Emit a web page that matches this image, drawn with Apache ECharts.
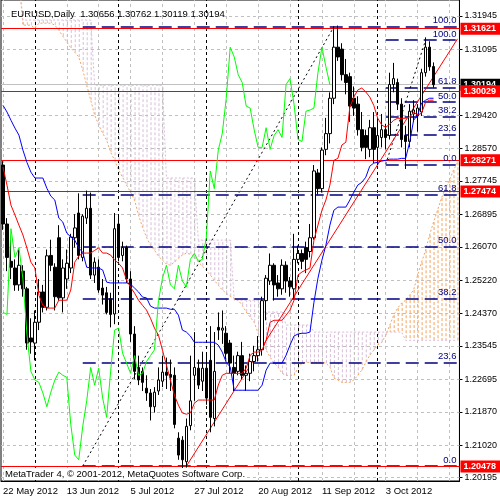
<!DOCTYPE html>
<html>
<head>
<meta charset="utf-8">
<script src="https://cdn.jsdelivr.net/npm/echarts@6/dist/echarts.min.js"></script>
<style>
  html, body { margin: 0; padding: 0; background: #fff; }
  #chart { width: 500px; height: 500px; }
</style>
</head>
<body>
<div id="chart"></div>
<script>
// EURUSD daily bars, 22 May 2012 .. 19 Oct 2012, plus 6 empty bars for the cloud
const barCount = 115
const xLabels = ['22 May 2012', '13 Jun 2012', '5 Jul 2012', '27 Jul 2012', '20 Aug 2012', '11 Sep 2012', '3 Oct 2012']
const monthStarts = ['1 Jun 2012', '2 Jul 2012', '1 Aug 2012', '3 Sep 2012', '1 Oct 2012']
const yTicks = [1.31945, 1.31095, 1.29420, 1.28570, 1.27745, 1.26895, 1.26070, 1.25220, 1.24370, 1.23545, 1.22695, 1.21870, 1.21020, 1.20195]

// open, high, low, close
const ohlc = [
  [1.2815, 1.2825, 1.2650, 1.2665], [1.2665, 1.2680, 1.2545, 1.2580], [1.2570, 1.2625, 1.2525, 1.2555],
  [1.2553, 1.2575, 1.2495, 1.2510], [1.2510, 1.2600, 1.2495, 1.2560], [1.2545, 1.2560, 1.2480, 1.2500],
  [1.2500, 1.2505, 1.2345, 1.2362], [1.2375, 1.2425, 1.2335, 1.2365], [1.2362, 1.2445, 1.2318, 1.2415],
  [1.2415, 1.2525, 1.2395, 1.2492], [1.2492, 1.2510, 1.2440, 1.2453], [1.2453, 1.2600, 1.2445, 1.2584],
  [1.2585, 1.2625, 1.2545, 1.2560], [1.2555, 1.2565, 1.2445, 1.2480], [1.2630, 1.2662, 1.2470, 1.2477],
  [1.2477, 1.2575, 1.2440, 1.2553], [1.2525, 1.2600, 1.2500, 1.2565], [1.2553, 1.2640, 1.2540, 1.2632],
  [1.2630, 1.2690, 1.2605, 1.2655], [1.2693, 1.2743, 1.2575, 1.2585], [1.2580, 1.2690, 1.2570, 1.2685],
  [1.2680, 1.2750, 1.2665, 1.2705], [1.2705, 1.2745, 1.2525, 1.2535], [1.2535, 1.2580, 1.2515, 1.2568],
  [1.2555, 1.2575, 1.2490, 1.2497], [1.2502, 1.2525, 1.2460, 1.2484], [1.2490, 1.2505, 1.2435, 1.2440],
  [1.2475, 1.2490, 1.2402, 1.2435], [1.2436, 1.2693, 1.2410, 1.2653], [1.2665, 1.2690, 1.2570, 1.2580],
  [1.2585, 1.2620, 1.2570, 1.2605], [1.2605, 1.2610, 1.2515, 1.2525], [1.2525, 1.2545, 1.2365, 1.2385],
  [1.2385, 1.2405, 1.2270, 1.2290], [1.2300, 1.2330, 1.2255, 1.2268], [1.2290, 1.2300, 1.2240, 1.2262],
  [1.2247, 1.2280, 1.2215, 1.2235], [1.2235, 1.2245, 1.2165, 1.2200], [1.2200, 1.2250, 1.2185, 1.2237],
  [1.2240, 1.2300, 1.2230, 1.2268], [1.2265, 1.2330, 1.2250, 1.2288], [1.2288, 1.2325, 1.2245, 1.2280],
  [1.2282, 1.2320, 1.2240, 1.2275], [1.2280, 1.2300, 1.2145, 1.2155], [1.2120, 1.2135, 1.2065, 1.2077],
  [1.2115, 1.2125, 1.2042, 1.2065], [1.2060, 1.2170, 1.2045, 1.2150], [1.2152, 1.2330, 1.2140, 1.2215],
  [1.2280, 1.2390, 1.2215, 1.2300], [1.2298, 1.2320, 1.2245, 1.2255], [1.2265, 1.2340, 1.2240, 1.2298],
  [1.2298, 1.2335, 1.2205, 1.2222], [1.2318, 1.2405, 1.2135, 1.2173], [1.2170, 1.2390, 1.2150, 1.2290],
  [1.2402, 1.2440, 1.2370, 1.2395], [1.2395, 1.2445, 1.2360, 1.2400], [1.2387, 1.2405, 1.2320, 1.2336],
  [1.2362, 1.2370, 1.2285, 1.2311], [1.2300, 1.2330, 1.2240, 1.2285], [1.2290, 1.2340, 1.2280, 1.2330],
  [1.2330, 1.2365, 1.2270, 1.2280], [1.2280, 1.2305, 1.2240, 1.2285], [1.2285, 1.2335, 1.2265, 1.2315],
  [1.2315, 1.2355, 1.2290, 1.2330], [1.2330, 1.2380, 1.2315, 1.2345], [1.2345, 1.2480, 1.2330, 1.2470],
  [1.2470, 1.2535, 1.2420, 1.2527], [1.2520, 1.2590, 1.2510, 1.2560], [1.2560, 1.2565, 1.2470, 1.2510],
  [1.2515, 1.2535, 1.2480, 1.2500], [1.2500, 1.2575, 1.2485, 1.2560], [1.2560, 1.2570, 1.2490, 1.2520],
  [1.2520, 1.2530, 1.2480, 1.2505], [1.2500, 1.2640, 1.2475, 1.2575], [1.2575, 1.2610, 1.2565, 1.2590],
  [1.2590, 1.2600, 1.2550, 1.2570], [1.2605, 1.2620, 1.2540, 1.2575], [1.2595, 1.2665, 1.2580, 1.2630],
  [1.2630, 1.2815, 1.2625, 1.2800], [1.2795, 1.2805, 1.2740, 1.2755], [1.2755, 1.2860, 1.2745, 1.2853],
  [1.2855, 1.2935, 1.2840, 1.2895], [1.2895, 1.3000, 1.2870, 1.2985], [1.2985, 1.3168, 1.2970, 1.3115],
  [1.3115, 1.3170, 1.3080, 1.3090], [1.3110, 1.3125, 1.3030, 1.3045], [1.3045, 1.3085, 1.2995, 1.3025],
  [1.3040, 1.3050, 1.2925, 1.2965], [1.2985, 1.3015, 1.2940, 1.2960], [1.2970, 1.2990, 1.2890, 1.2905],
  [1.2905, 1.2950, 1.2850, 1.2860], [1.2890, 1.2905, 1.2830, 1.2860], [1.2855, 1.2930, 1.2835, 1.2910],
  [1.2910, 1.2950, 1.2820, 1.2855], [1.2860, 1.2935, 1.2815, 1.2890], [1.2885, 1.2945, 1.2860, 1.2905],
  [1.2905, 1.2920, 1.2855, 1.2885], [1.2890, 1.3050, 1.2880, 1.3020], [1.3020, 1.3075, 1.3000, 1.3035],
  [1.3025, 1.3035, 1.2955, 1.2970], [1.2970, 1.2985, 1.2860, 1.2880], [1.2890, 1.2915, 1.2805, 1.2875],
  [1.2875, 1.2970, 1.2860, 1.2952], [1.2945, 1.2980, 1.2925, 1.2955], [1.2940, 1.2970, 1.2900, 1.2960],
  [1.2950, 1.3060, 1.2940, 1.3050], [1.3050, 1.3140, 1.3040, 1.3115], [1.3115, 1.3130, 1.3055, 1.3065],
  [1.30656, 1.30762, 1.30119, 1.30194]
]

const tenkan = [
  1.2810, 1.2764, 1.2713, 1.2688, 1.2662, 1.2637, 1.2604, 1.2568, 1.2553, 1.2484,
  1.2458, 1.2451, 1.2451, 1.2451, 1.2471, 1.2471, 1.2471, 1.2497, 1.2568, 1.2583,
  1.2591, 1.2591, 1.2591, 1.2598, 1.2604, 1.2591, 1.2591, 1.2586, 1.2573, 1.2565,
  1.2553, 1.2522, 1.2504, 1.2489, 1.2471, 1.2458, 1.2446, 1.2425, 1.2400, 1.2382,
  1.2344, 1.2306, 1.2268, 1.2229, 1.2204, 1.2184, 1.2181, 1.2184, 1.2209, 1.2217,
  1.2217, 1.2217, 1.2217, 1.2217, 1.2255, 1.2280, 1.2285, 1.2285, 1.2285, 1.2285,
  1.2285, 1.2298, 1.2331, 1.2339, 1.2339, 1.2344, 1.2369, 1.2415, 1.2420, 1.2420,
  1.2420, 1.2433, 1.2446, 1.2471, 1.2535, 1.2543, 1.2548, 1.2553, 1.2624, 1.2662,
  1.2700, 1.2726, 1.2764, 1.2827, 1.2832, 1.2866, 1.2873, 1.2962, 1.2988, 1.3006,
  1.3011, 1.3001, 1.2988, 1.2967, 1.2934, 1.2917, 1.2911, 1.2919, 1.2929, 1.2934,
  1.2934, 1.2934, 1.2937, 1.2950, 1.2942, 1.2947, 1.2975, 1.2980, 1.2980
]

const kijun = [
  1.2967, 1.2950, 1.2929, 1.2909, 1.2891, 1.2853, 1.2822, 1.2797, 1.2782, 1.2782,
  1.2782, 1.2756, 1.2736, 1.2726, 1.2680, 1.2670, 1.2642, 1.2632, 1.2624, 1.2604,
  1.2593, 1.2555, 1.2553, 1.2553, 1.2553, 1.2548, 1.2517, 1.2515, 1.2515, 1.2515,
  1.2515, 1.2515, 1.2512, 1.2502, 1.2492, 1.2479, 1.2477, 1.2456, 1.2451, 1.2451,
  1.2451, 1.2451, 1.2448, 1.2448, 1.2433, 1.2395, 1.2390, 1.2380, 1.2364, 1.2364,
  1.2364, 1.2364, 1.2364, 1.2364, 1.2357, 1.2339, 1.2313, 1.2301, 1.2242, 1.2242,
  1.2242, 1.2242, 1.2242, 1.2242, 1.2242, 1.2255, 1.2293, 1.2311, 1.2311, 1.2311,
  1.2311, 1.2331, 1.2357, 1.2380, 1.2385, 1.2387, 1.2387, 1.2390, 1.2466, 1.2527,
  1.2573, 1.2611, 1.2662, 1.2700, 1.2708, 1.2708, 1.2708, 1.2726, 1.2746, 1.2764,
  1.2771, 1.2784, 1.2812, 1.2820, 1.2822, 1.2825, 1.2827, 1.2830, 1.2830, 1.2830,
  1.2832, 1.2832, 1.2873, 1.2929, 1.2942, 1.2973, 1.2980, 1.2985, 1.2985
]

// senkou spans, already shifted 26 bars forward (one value per category)
const spanA = [
  1.3290, 1.3290, 1.3290, 1.3290, 1.3290, 1.3171, 1.3171, 1.3171, 1.3163, 1.3176,
  1.3176, 1.3176, 1.3176, 1.3171, 1.3158, 1.3143, 1.3128, 1.3113, 1.3102, 1.3090,
  1.3057, 1.3018, 1.2980, 1.2942, 1.2917, 1.2896, 1.2878, 1.2848, 1.2827, 1.2802,
  1.2784, 1.2764, 1.2746, 1.2726, 1.2687, 1.2657, 1.2631, 1.2611, 1.2598, 1.2583,
  1.2573, 1.2563, 1.2560, 1.2568, 1.2578, 1.2586, 1.2591, 1.2588, 1.2583, 1.2568,
  1.2558, 1.2547, 1.2535, 1.2522, 1.2509, 1.2497, 1.2489, 1.2481, 1.2476, 1.2471,
  1.2458, 1.2441, 1.2428, 1.2415, 1.2387, 1.2369, 1.2344, 1.2326, 1.2311, 1.2301,
  1.2285, 1.2280, 1.2280, 1.2280, 1.2298, 1.2311, 1.2313, 1.2313, 1.2313, 1.2313,
  1.2313, 1.2311, 1.2301, 1.2273, 1.2268, 1.2262, 1.2262, 1.2262, 1.2268, 1.2280,
  1.2293, 1.2313, 1.2331, 1.2344, 1.2357, 1.2364, 1.2382, 1.2407, 1.2433, 1.2451,
  1.2464, 1.2471, 1.2484, 1.2497, 1.2535, 1.2568, 1.2598, 1.2637, 1.2670, 1.2700,
  1.2731, 1.2756, 1.2777, 1.2802, 1.2822
]
const spanB = [
  1.3290, 1.3290, 1.3290, 1.3290, 1.3290, 1.3184, 1.3184, 1.3184, 1.3184, 1.3184,
  1.3184, 1.3184, 1.3184, 1.3184, 1.3184, 1.3184, 1.3184, 1.3184, 1.3184, 1.3184,
  1.3184, 1.3184, 1.3184, 1.3018, 1.3018, 1.3018, 1.3018, 1.3018, 1.3018, 1.3018,
  1.3018, 1.3018, 1.3018, 1.3018, 1.3018, 1.3018, 1.3018, 1.3018, 1.3018, 1.3018,
  1.3018, 1.2782, 1.2782, 1.2782, 1.2782, 1.2782, 1.2782, 1.2782, 1.2782, 1.2624,
  1.2624, 1.2624, 1.2624, 1.2624, 1.2624, 1.2624, 1.2624, 1.2624, 1.2471, 1.2471,
  1.2471, 1.2471, 1.2471, 1.2471, 1.2471, 1.2441, 1.2441, 1.2441, 1.2441, 1.2441,
  1.2441, 1.2408, 1.2408, 1.2408, 1.2408, 1.2408, 1.2408, 1.2408, 1.2390, 1.2390,
  1.2390, 1.2390, 1.2390, 1.2390, 1.2390, 1.2390, 1.2390, 1.2390, 1.2390, 1.2390,
  1.2390, 1.2390, 1.2390, 1.2390, 1.2390, 1.2390, 1.2390, 1.2390, 1.2390, 1.2390,
  1.2390, 1.2369, 1.2369, 1.2369, 1.2369, 1.2369, 1.2369, 1.2369, 1.2369, 1.2369,
  1.2369, 1.2369, 1.2369, 1.2369, 1.2369
]

const levelLines = [1.31621, 1.30029, 1.28271, 1.27474, 1.20478]
const bidPrice = 1.30194
const fibNames = ['0.0', '23.6', '38.2', '50.0', '61.8', '100.0']
const fibBigLevels = [1.2049, 1.2312, 1.2475, 1.2608, 1.2740, 1.3167]
const fibSmallLevels = [1.2817, 1.2892, 1.2938, 1.2975, 1.3012, 1.3133]
// anchors as [bar index, price]
const fibBigDiag = [[20, 1.2049], [83, 1.3167]]
const fibSmallDiag = [[96, 1.2817], [106, 1.3133]]
const trendLine = [[46, 1.2049], [114, 1.3136]]

const months = ['Jan', 'Feb', 'Mar', 'Apr', 'May', 'Jun', 'Jul', 'Aug', 'Sep', 'Oct', 'Nov', 'Dec']
const dates = []
const d = new Date(2012, 4, 22)
while (dates.length < barCount) {
  if (d.getDay() !== 0 && d.getDay() !== 6) {
    dates.push(d.getDate() + ' ' + months[d.getMonth()] + ' ' + d.getFullYear())
  }
  d.setDate(d.getDate() + 1)
}

const font = 'Liberation Sans'
const showLabel = (i) => xLabels.includes(dates[i])
const chikou = ohlc.slice(26).map((r) => r[3])
const cloud = spanA.map((a, i) => [i, a, spanB[i]])
const gridStyle = { color: '#c0c0c0', type: [3, 3], width: 1 }

const fibSegments = (levels, from, to) => levels.map((p, i) => [
  { coord: [from, p], label: { formatter: fibNames[i] } },
  { coord: [to, p] }
])

const chart = echarts.init(document.getElementById('chart'))

const option = {
  animation: false,
  backgroundColor: '#fff',
  title: {
    text: 'EURUSD,Daily  1.30656 1.30762 1.30119 1.30194',
    left: 6,
    top: 4,
    textStyle: { fontFamily: font, fontSize: 9.5, fontWeight: 'normal', color: '#000' }
  },
  graphic: [{
    type: 'text',
    left: 4,
    top: 468,
    z: 100,
    style: {
      text: 'MetaTrader 4, © 2001-2012, MetaQuotes Software Corp.',
      font: '9.5px "Liberation Sans"',
      fill: '#000',
      backgroundColor: '#fff',
      padding: [1, 1, 1, 1]
    }
  }],
  grid: {
    left: 1,
    right: 39,
    top: 0,
    bottom: 19,
    show: true,
    borderColor: '#000',
    borderWidth: 1
  },
  xAxis: {
    type: 'category',
    data: dates,
    boundaryGap: true,
    axisLine: { lineStyle: { color: '#000' } },
    axisTick: { interval: showLabel, alignWithLabel: true, length: 4, lineStyle: { color: '#000' } },
    axisLabel: {
      interval: showLabel,
      align: 'left',
      margin: 5,
      fontFamily: font,
      fontSize: 9.5,
      color: '#000'
    },
    splitLine: { show: false }
  },
  yAxis: {
    type: 'value',
    position: 'right',
    min: 1.2011,
    max: 1.3235,
    axisLine: { show: true, lineStyle: { color: '#000' } },
    axisTick: { show: true, customValues: yTicks, length: 3, lineStyle: { color: '#000' } },
    axisLabel: {
      customValues: yTicks,
      formatter: (v) => v.toFixed(5),
      margin: 5,
      fontFamily: font,
      fontSize: 9,
      color: '#000'
    },
    splitLine: { show: false }
  },
  series: [
    {
      // grid and period separators
      type: 'line',
      data: [],
      silent: true,
      z: 1,
      markLine: {
        silent: true,
        precision: 5,
        symbol: 'none',
        label: { show: false },
        data: [
          ...yTicks.map((v) => ({ yAxis: v, lineStyle: gridStyle })),
          ...dates.map((t, i) => i).filter((i) => i % 8 === 0 && !monthStarts.includes(dates[i]))
            .map((i) => ({ xAxis: i, lineStyle: gridStyle })),
          ...monthStarts.map((t) => ({ xAxis: dates.indexOf(t), lineStyle: { color: '#000', type: [3, 3], width: 1 } }))
        ]
      }
    },
    {
      // cloud hatch
      type: 'custom',
      data: cloud,
      clip: true,
      z: 2,
      silent: true,
      encode: { x: 0, y: [1, 2] },
      renderItem: (params, api) => {
        const k = api.value(0)
        const a = api.value(1)
        const b = api.value(2)
        const p1 = api.coord([k, a])
        const p2 = api.coord([k, b])
        return {
          type: 'line',
          shape: { x1: p1[0] + 0.5, y1: p1[1], x2: p2[0] + 0.5, y2: p2[1] },
          style: { stroke: a > b ? '#f4a460' : '#d8bfd8', lineWidth: 1, lineDash: [3, 2] }
        }
      }
    },
    {
      name: 'Senkou A',
      type: 'line',
      data: spanA,
      symbol: 'none',
      z: 3,
      lineStyle: { color: '#f4a460', width: 1, type: [2, 2] }
    },
    {
      name: 'Senkou B',
      type: 'line',
      data: spanB,
      symbol: 'none',
      z: 3,
      lineStyle: { color: '#d8bfd8', width: 1, type: [2, 2] }
    },
    {
      // fibonacci retracements
      type: 'line',
      data: [],
      z: 4,
      markLine: {
        silent: true,
        precision: 5,
        symbol: 'none',
        lineStyle: { color: '#000080', width: 1.5, type: [13, 6] },
        label: {
          position: 'insideEndTop',
          distance: 1,
          color: '#000080',
          fontFamily: font,
          fontSize: 9.5
        },
        data: [
          ...fibSegments(fibBigLevels, 20, 114),
          ...fibSegments(fibSmallLevels, 96, 114),
          [{ coord: fibBigDiag[0], lineStyle: { color: '#000', width: 1, type: [2, 3] }, label: { show: false } }, { coord: fibBigDiag[1] }],
          [{ coord: fibSmallDiag[0], lineStyle: { color: '#000', width: 1, type: [2, 3] }, label: { show: false } }, { coord: fibSmallDiag[1] }]
        ]
      }
    },
    {
      // horizontal levels with price tags
      type: 'line',
      data: [],
      z: 6,
      markLine: {
        silent: true,
        precision: 5,
        symbol: 'none',
        lineStyle: { color: '#ff0000', width: 1, type: 'solid' },
        label: {
          position: 'end',
          distance: 1,
          formatter: (p) => Number(p.value).toFixed(5),
          color: '#fff',
          backgroundColor: '#ff0000',
          padding: [2, 4, 1, 3],
          fontFamily: font,
          fontSize: 9,
          fontWeight: 'bold'
        },
        data: [
          { yAxis: bidPrice, lineStyle: { color: '#c0c0c0' }, label: { backgroundColor: '#000' } },
          ...levelLines.map((v) => ({ yAxis: v })),
          [{ coord: trendLine[0], label: { show: false } }, { coord: trendLine[1] }]
        ]
      }
    },
    {
      name: 'EURUSD',
      type: 'candlestick',
      data: ohlc.map((r) => [r[0], r[3], r[2], r[1]]),
      barWidth: 3,
      z: 5,
      itemStyle: {
        color: '#fff',
        color0: '#000',
        borderColor: '#000',
        borderColor0: '#000',
        borderWidth: 1
      }
    },
    {
      name: 'Tenkan-sen',
      type: 'line',
      data: tenkan,
      symbol: 'none',
      z: 7,
      lineStyle: { color: '#ff0000', width: 1 }
    },
    {
      name: 'Kijun-sen',
      type: 'line',
      data: kijun,
      symbol: 'none',
      z: 7,
      lineStyle: { color: '#0000ff', width: 1 }
    },
    {
      name: 'Chikou Span',
      type: 'line',
      data: chikou,
      symbol: 'none',
      z: 7,
      lineStyle: { color: '#00ff00', width: 1 }
    }
  ]
}

chart.setOption(option)
</script>
</body>
</html>
